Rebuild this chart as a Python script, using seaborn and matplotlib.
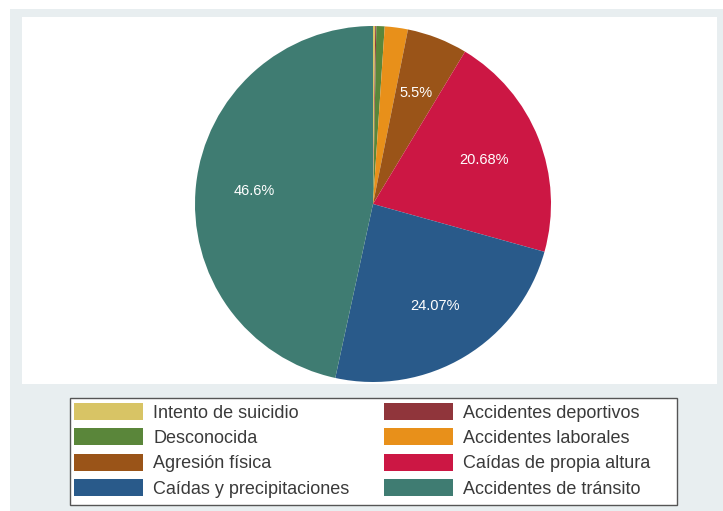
import matplotlib
matplotlib.use("Agg")
import matplotlib.pyplot as plt
from matplotlib.patches import Rectangle, Patch
import numpy as np
import seaborn as sns

# Share of cases by cause (percent), in drawing order clockwise from 12 o'clock
categories = [
    "Intento de suicidio",
    "Accidentes deportivos",
    "Desconocida",
    "Accidentes laborales",
    "Agresión física",
    "Caídas de propia altura",
    "Caídas y precipitaciones",
    "Accidentes de tránsito",
]
shares = [0.2, 0.1, 0.75, 2.1, 5.5, 20.68, 24.07, 46.6]
# Slices that carry a value label
labelled = [False, False, False, False, True, True, True, True]

colors = sns.color_palette([
    "#d8c465",  # khaki
    "#90353b",  # maroon
    "#5a863a",  # green
    "#e8901a",  # orange
    "#9a5418",  # brown
    "#cc1744",  # crimson
    "#295a8a",  # navy
    "#3f7c72",  # teal
])

sns.set_theme(style="white")
plt.rcParams["font.family"] = ["Liberation Sans", "DejaVu Sans"]

W, H = 723, 511
fig = plt.figure(figsize=(W / 100, H / 100), dpi=100)
fig.patch.set_facecolor("white")


def fx(px):
    return px / W


def fy(py):
    return 1 - py / H


# Outer graph region and inner plot region
fig.add_artist(Rectangle((fx(10), 0), 1 - fx(10), fy(9), transform=fig.transFigure,
                         facecolor="#e8eef0", edgecolor="none", zorder=0))
fig.add_artist(Rectangle((fx(22), fy(384)), fx(717) - fx(22), fy(17) - fy(384),
                         transform=fig.transFigure, facecolor="white",
                         edgecolor="none", zorder=0))

# Pie
cx, cy, r = 373, 204, 178
ax = fig.add_axes([fx(cx - r), fy(cy + r), fx(2 * r), fy(cy - r) - fy(cy + r)])
ax.set_facecolor("none")
wedges, _ = ax.pie(shares, colors=colors, startangle=90, counterclock=False,
                   radius=1.0, wedgeprops=dict(linewidth=0))
ax.set_xlim(-1, 1)
ax.set_ylim(-1, 1)
ax.set_aspect("equal")
ax.axis("off")

for w, v, show in zip(wedges, shares, labelled):
    if not show:
        continue
    ang = np.deg2rad((w.theta1 + w.theta2) / 2)
    d = 0.67
    ax.text(d * np.cos(ang), d * np.sin(ang), f"{v:g}%", color="white",
            ha="center", va="center", fontsize=10.5)

# Legend: row-wise order in two columns
handles = [Patch(facecolor=c, edgecolor="none") for c in colors]
order = [0, 2, 4, 6, 1, 3, 5, 7]
fig.add_artist(Rectangle((fx(70), fy(505)), fx(677) - fx(70), fy(398) - fy(505),
                         transform=fig.transFigure, facecolor="white",
                         edgecolor="#555555", linewidth=1.0, zorder=1))
leg = fig.legend([handles[i] for i in order], [categories[i] for i in order],
                 ncol=2, loc="upper left", bbox_to_anchor=(fx(74), fy(403)),
                 bbox_transform=fig.transFigure, frameon=False, fontsize=13,
                 handlelength=3.8, handleheight=1.05, handletextpad=0.6,
                 columnspacing=1.9, labelspacing=0.38, borderpad=0.0,
                 borderaxespad=0.0)
leg.set_zorder(2)
for t in leg.get_texts():
    t.set_color("#3a3a3a")

fig.savefig("out.png", dpi=100)
